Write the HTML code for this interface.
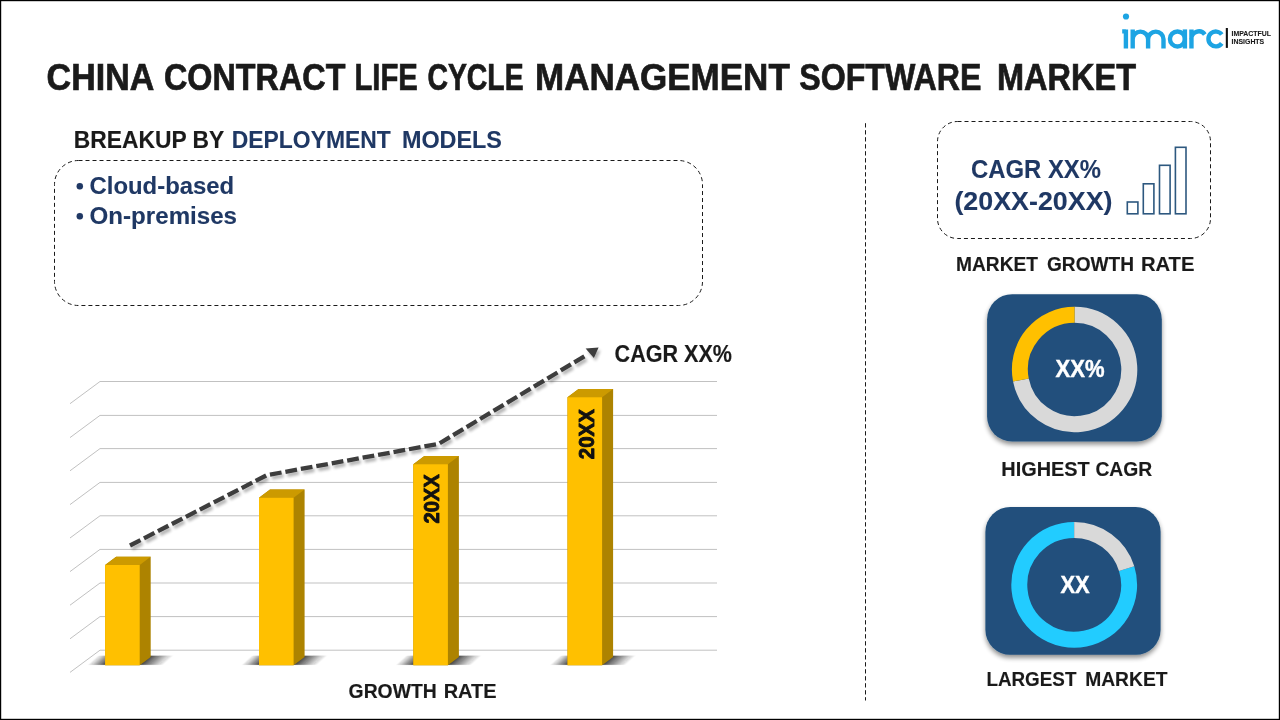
<!DOCTYPE html>
<html lang="en">
<head>
<meta charset="utf-8">
<title>China Contract Life Cycle Management Software Market</title>
<style>
  html, body { margin: 0; padding: 0; background: #ffffff; }
  body { width: 1280px; height: 720px; overflow: hidden; position: relative;
         font-family: "Liberation Sans", sans-serif; }
  svg { position: absolute; left: 0; top: 0; display: block; opacity: 0.999; }
  text { font-family: "Liberation Sans", sans-serif; font-weight: bold; }
  .blk { fill: #1a1a1a; stroke: #1a1a1a; stroke-width: 0.15; }
  .navy { fill: #1f3864; stroke: #1f3864; stroke-width: 0.1; }
  .wht { fill: #ffffff; stroke: #ffffff; stroke-width: 0.45; }
</style>
</head>
<body>
<svg width="1280" height="720" viewBox="0 0 1280 720">
  <defs>
    <filter id="lineShadow" x="-10%" y="-10%" width="120%" height="130%">
      <feGaussianBlur in="SourceAlpha" stdDeviation="1.8"/>
      <feOffset dx="2" dy="2.5" result="b"/>
      <feComponentTransfer><feFuncA type="linear" slope="0.3"/></feComponentTransfer>
      <feMerge><feMergeNode/><feMergeNode in="SourceGraphic"/></feMerge>
    </filter>
    <filter id="cardShadow" x="-10%" y="-10%" width="120%" height="125%">
      <feGaussianBlur in="SourceAlpha" stdDeviation="2.5"/>
      <feOffset dx="0" dy="3" result="b"/>
      <feComponentTransfer><feFuncA type="linear" slope="0.45"/></feComponentTransfer>
      <feMerge><feMergeNode/><feMergeNode in="SourceGraphic"/></feMerge>
    </filter>
    <filter id="floorBlur" x="-10%" y="-30%" width="120%" height="160%">
      <feGaussianBlur stdDeviation="0.4"/>
    </filter>
    <linearGradient id="floorGrad" x1="0" y1="0" x2="1" y2="0">
      <stop offset="0" stop-color="#1c1c1c" stop-opacity="0"/>
      <stop offset="0.24" stop-color="#1c1c1c" stop-opacity="0.85"/>
      <stop offset="0.70" stop-color="#1c1c1c" stop-opacity="0.8"/>
      <stop offset="0.84" stop-color="#1c1c1c" stop-opacity="0.42"/>
      <stop offset="1" stop-color="#1c1c1c" stop-opacity="0"/>
    </linearGradient>
  </defs>

  <!-- outer border -->
  <rect x="0.5" y="0.5" width="1279" height="719" fill="#ffffff" stroke="#000000" stroke-width="1.4"/>

  <!-- ============ TITLE ============ -->
  <g class="blk" font-size="37.2" style="stroke-width:0.7">
    <text x="46.6" y="90.1" textLength="107.7" lengthAdjust="spacingAndGlyphs">CHINA</text>
    <text x="164" y="90.1" textLength="181.4" lengthAdjust="spacingAndGlyphs">CONTRACT</text>
    <text x="354.4" y="90.1" textLength="63.5" lengthAdjust="spacingAndGlyphs">LIFE</text>
    <text x="427.4" y="90.1" textLength="96.2" lengthAdjust="spacingAndGlyphs">CYCLE</text>
    <text x="535" y="90.1" textLength="254.8" lengthAdjust="spacingAndGlyphs">MANAGEMENT</text>
    <text x="799.2" y="90.1" textLength="182.4" lengthAdjust="spacingAndGlyphs">SOFTWARE</text>
    <text x="997" y="90.1" textLength="139" lengthAdjust="spacingAndGlyphs">MARKET</text>
  </g>

  <!-- ============ BREAKUP HEADER ============ -->
  <g font-size="23.8">
    <text class="blk" x="73.8" y="147.9" textLength="150.5" lengthAdjust="spacingAndGlyphs">BREAKUP BY</text>
    <text class="navy" x="231.8" y="147.9" textLength="159" lengthAdjust="spacingAndGlyphs">DEPLOYMENT</text>
    <text class="navy" x="401.9" y="147.9" textLength="100.1" lengthAdjust="spacingAndGlyphs">MODELS</text>
  </g>

  <!-- dashed box (left) -->
  <rect x="54.5" y="160.5" width="648" height="145" rx="24" ry="24" fill="none" stroke="#1a1a1a" stroke-width="1" stroke-dasharray="4 3"/>
  <g class="navy" font-size="23.3">
    <circle cx="79.8" cy="186.3" r="3.2"/>
    <text x="89.6" y="194.3" textLength="144.5" lengthAdjust="spacingAndGlyphs">Cloud-based</text>
    <circle cx="79.8" cy="216.2" r="3.2"/>
    <text x="89.6" y="224.1" textLength="147.4" lengthAdjust="spacingAndGlyphs">On-premises</text>
  </g>

  <!-- vertical divider -->
  <line x1="865.5" y1="123.2" x2="865.5" y2="700.5" stroke="#1a1a1a" stroke-width="1" stroke-dasharray="4.3 2.7"/>

  <!-- ============ CHART ============ -->
  <g id="grid" stroke="#c1c1c1" stroke-width="1" fill="none">
    <path d="M70,403.7 L100,381.5 H717"/>
    <path d="M70,437.6 L100,415.4 H717"/>
    <path d="M70,470.8 L100,448.6 H717"/>
    <path d="M70,504.6 L100,482.4 H717"/>
    <path d="M70,538.0 L100,515.8 H717"/>
    <path d="M70,571.6 L100,549.4 H717"/>
    <path d="M70,605.2 L100,583.0 H717"/>
    <path d="M70,638.8 L100,616.6 H717"/>
    <path d="M70,672.4 L100,650.2 H717"/>
  </g>

  <!-- floor shadows -->
  <g transform="translate(105.1,665.2)"><rect x="-18" y="-9.6" width="76" height="9.4" fill="url(#floorGrad)" transform="skewX(-47.9)" filter="url(#floorBlur)"/></g>
  <g transform="translate(259.0,665.2)"><rect x="-18" y="-9.6" width="76" height="9.4" fill="url(#floorGrad)" transform="skewX(-47.9)" filter="url(#floorBlur)"/></g>
  <g transform="translate(413.3,665.2)"><rect x="-18" y="-9.6" width="76" height="9.4" fill="url(#floorGrad)" transform="skewX(-47.9)" filter="url(#floorBlur)"/></g>
  <g transform="translate(567.5,665.2)"><rect x="-18" y="-9.6" width="76" height="9.4" fill="url(#floorGrad)" transform="skewX(-47.9)" filter="url(#floorBlur)"/></g>

  <!-- bars -->
  <g id="bars">
    <polygon points="105.1,565.0 116.1,556.7 150.7,556.7 150.7,656.9 139.7,665.2 105.1,665.2" fill="#ad8300"/>
    <polygon points="105.1,565.0 139.7,565.0 150.7,556.7 116.1,556.7" fill="#cc9a00"/>
    <rect x="105.1" y="565.0" width="34.6" height="100.2" fill="#ffc000"/>
    <polygon points="259.0,497.7 270.0,489.4 304.6,489.4 304.6,656.9 293.6,665.2 259.0,665.2" fill="#ad8300"/>
    <polygon points="259.0,497.7 293.6,497.7 304.6,489.4 270.0,489.4" fill="#cc9a00"/>
    <rect x="259.0" y="497.7" width="34.6" height="167.5" fill="#ffc000"/>
    <polygon points="413.3,464.2 424.3,455.9 458.9,455.9 458.9,656.9 447.9,665.2 413.3,665.2" fill="#ad8300"/>
    <polygon points="413.3,464.2 447.9,464.2 458.9,455.9 424.3,455.9" fill="#cc9a00"/>
    <rect x="413.3" y="464.2" width="34.6" height="201.0" fill="#ffc000"/>
    <polygon points="567.5,397.2 578.5,388.9 613.1,388.9 613.1,656.9 602.1,665.2 567.5,665.2" fill="#ad8300"/>
    <polygon points="567.5,397.2 602.1,397.2 613.1,388.9 578.5,388.9" fill="#cc9a00"/>
    <rect x="567.5" y="397.2" width="34.6" height="268.0" fill="#ffc000"/>
  </g>

  <!-- rotated bar labels -->
  <g font-size="21.2" fill="#111111" stroke="#111111" stroke-width="0.9" stroke-linejoin="round">
    <text transform="translate(439.1,523.6) rotate(-90)" textLength="49.4" lengthAdjust="spacingAndGlyphs">20XX</text>
    <text transform="translate(594,459.2) rotate(-90)" textLength="50" lengthAdjust="spacingAndGlyphs">20XX</text>
  </g>

  <!-- dashed trend line + arrow -->
  <g filter="url(#lineShadow)">
    <polyline points="130,545.5 266.8,475.2 438.8,443.8 585.7,355.5" fill="none" stroke="#3d3d3d" stroke-width="4.3" stroke-dasharray="11.8 3.9" stroke-linejoin="miter"/>
    <polygon points="598.6,347.5 585.6,348.4 593.9,358.1" fill="#3d3d3d"/>
  </g>
  <text class="blk" font-size="24" x="614.6" y="361.7" textLength="117.4" lengthAdjust="spacingAndGlyphs">CAGR XX%</text>

  <g class="blk" font-size="19.8">
    <text x="348.6" y="698.1" textLength="88.1" lengthAdjust="spacingAndGlyphs">GROWTH</text>
    <text x="443.7" y="698.1" textLength="52.9" lengthAdjust="spacingAndGlyphs">RATE</text>
  </g>

  <!-- ============ RIGHT COLUMN ============ -->
  <rect x="937.5" y="121.5" width="273" height="117" rx="20" ry="20" fill="none" stroke="#1a1a1a" stroke-width="1" stroke-dasharray="4 3"/>
  <g class="navy" font-size="25.4">
    <text x="971" y="177.5" textLength="130" lengthAdjust="spacingAndGlyphs">CAGR XX%</text>
    <text x="954.4" y="209.5" textLength="158.1" lengthAdjust="spacingAndGlyphs">(20XX-20XX)</text>
  </g>
  <g fill="none" stroke="#2d587f" stroke-width="1.6">
    <rect x="1127.3" y="202" width="10.6" height="11.8"/>
    <rect x="1143.3" y="183.8" width="10.6" height="30"/>
    <rect x="1159.5" y="165.3" width="10.6" height="48.5"/>
    <rect x="1175.4" y="147.3" width="10.6" height="66.5"/>
  </g>
  <g class="blk" font-size="20">
    <text x="956" y="271.2" textLength="82" lengthAdjust="spacingAndGlyphs">MARKET</text>
    <text x="1047" y="271.2" textLength="87" lengthAdjust="spacingAndGlyphs">GROWTH</text>
    <text x="1140.9" y="271.2" textLength="53.6" lengthAdjust="spacingAndGlyphs">RATE</text>
  </g>

  <!-- card 1 -->
  <rect x="987.1" y="294.2" width="174.7" height="147.3" rx="25" ry="25" fill="#20507c" filter="url(#cardShadow)"/>
  <path d="M1074.6,314.8 A54.7,54.7 0 1 1 1020.9,379.95" fill="none" stroke="#d9d9d9" stroke-width="16"/>
  <path d="M1020.9,379.95 A54.7,54.7 0 0 1 1074.6,314.8" fill="none" stroke="#ffc000" stroke-width="16"/>
  <text class="wht" font-size="24" x="1055.5" y="376.8" textLength="49" lengthAdjust="spacingAndGlyphs">XX%</text>
  <g class="blk" font-size="20.3">
    <text x="1001.3" y="476.2" textLength="88.4" lengthAdjust="spacingAndGlyphs">HIGHEST</text>
    <text x="1095.4" y="476.2" textLength="56.8" lengthAdjust="spacingAndGlyphs">CAGR</text>
  </g>

  <!-- card 2 -->
  <rect x="985.4" y="506.9" width="175.2" height="147.9" rx="25" ry="25" fill="#20507c" filter="url(#cardShadow)"/>
  <path d="M1126.65,568.57 A54.9,54.9 0 1 1 1074.2,529.9" fill="none" stroke="#22ccff" stroke-width="16"/>
  <path d="M1074.2,529.9 A54.9,54.9 0 0 1 1126.65,568.57" fill="none" stroke="#d9d9d9" stroke-width="16"/>
  <text class="wht" font-size="23.3" x="1060.5" y="592.8" textLength="29.2" lengthAdjust="spacingAndGlyphs">XX</text>
  <g class="blk" font-size="20.3">
    <text x="986.4" y="686.2" textLength="90" lengthAdjust="spacingAndGlyphs">LARGEST</text>
    <text x="1085.2" y="686.2" textLength="82.3" lengthAdjust="spacingAndGlyphs">MARKET</text>
  </g>

  <!-- ============ LOGO ============ -->
  <g id="logo" fill="none" stroke="#1da4e3" stroke-width="4.4">
    <path d="M1125.9,29.4 V48.5 M1122.2,31.4 H1125.9"/>
    <path d="M1132.7,29.4 V48.5 M1132.7,39.3 a7.7,7.7 0 0 1 15.4,0 V48.5 M1148.1,39.3 a7.7,7.7 0 0 1 15.4,0 V48.5"/>
    <circle cx="1177.45" cy="38.95" r="7.5"/>
    <path d="M1184.9,29.4 V48.5"/>
    <path d="M1191.45,29.4 V48.5 M1191.3,39.2 A7.45,7.45 0 0 1 1204.8,34.55"/>
    <path d="M1221.76,34.5 A7.4,7.4 0 1 0 1221.76,43.4"/>
  </g>
  <circle cx="1126" cy="16.5" r="3.1" fill="#1da4e3"/>
  <rect x="1225.8" y="28" width="2.1" height="19.9" fill="#111111"/>
  <g class="blk" font-size="7.4" style="stroke-width:0.1">
    <text x="1231.6" y="35.7" textLength="39.4" lengthAdjust="spacingAndGlyphs">IMPACTFUL</text>
    <text x="1231.6" y="44.3" textLength="32.6" lengthAdjust="spacingAndGlyphs">INSIGHTS</text>
  </g>
</svg>
</body>
</html>
